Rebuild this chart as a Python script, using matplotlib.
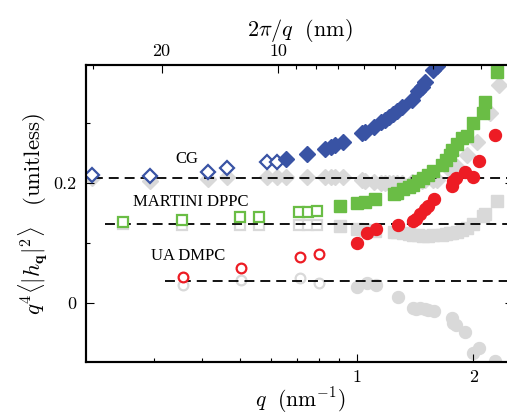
import numpy as np
import matplotlib
matplotlib.use('Agg')
import matplotlib.pyplot as plt
from matplotlib.ticker import FixedLocator, NullFormatter

plt.rcParams['mathtext.fontset'] = 'cm'
plt.rcParams['font.family'] = 'serif'
plt.rcParams['font.serif'] = ['cmr10', 'DejaVu Serif']
plt.rcParams['axes.formatter.use_mathtext'] = True

# colours
BLUE = '#3953a4'
GREEN = '#6abd45'
RED = '#ed1c24'
GRAY = '#d9d9d9'

# ---- CG (diamonds) ----
q_cg = [0.208, 0.293, 0.414, 0.463, 0.587, 0.623, 0.657, 0.745, 0.830, 0.860,
        0.881, 0.924, 1.032, 1.052, 1.110, 1.157, 1.185, 1.214, 1.243, 1.272,
        1.311, 1.388, 1.441, 1.474, 1.503, 1.576, 1.611,
        1.743, 1.814, 1.924, 2.049, 2.210, 2.335]
cg_vals = [0.2138, 0.2127, 0.219, 0.226, 0.2347, 0.2347, 0.2405, 0.248, 0.2567, 0.2605,
           0.263, 0.2693, 0.283, 0.2855, 0.2933, 0.302, 0.3055, 0.3105, 0.3147, 0.3197,
           0.3277, 0.339, 0.3538, 0.3605, 0.3688, 0.3888, 0.3955]
cg_gray = [0.209, 0.204, 0.2067, 0.211, 0.211, 0.211, 0.210, 0.2095, 0.2095, 0.2095,
           0.2095, 0.2095, 0.2045, 0.2037, 0.2027, 0.2005, 0.200, 0.1997, 0.1997, 0.1997,
           0.2005, 0.2022, 0.2038, 0.2038, 0.2047, 0.2055, 0.2055,
           0.222, 0.2277, 0.247, 0.2693, 0.3167, 0.364]
cg_open = 6

# ---- MARTINI DPPC (squares) ----
q_mar = [0.250, 0.355, 0.501, 0.559, 0.709, 0.748, 0.790,
         0.904, 1.002, 1.052, 1.117, 1.245, 1.272, 1.321, 1.361, 1.402, 1.441,
         1.484, 1.532, 1.576, 1.659, 1.702, 1.743, 1.764, 1.814, 1.868, 1.928,
         2.001, 2.117, 2.145, 2.299]
mar_vals = [0.1355, 0.1388, 0.1433, 0.1433, 0.1513, 0.1527, 0.1543,
            0.1622, 0.1667, 0.1693, 0.1733, 0.1822, 0.1838, 0.1897, 0.193, 0.1972, 0.203,
            0.2083, 0.2138, 0.2205, 0.2297, 0.2388, 0.2472, 0.2555, 0.2647, 0.275, 0.2788,
            0.301, 0.317, 0.3358, 0.3858]
mar_gray = [0.1313, 0.1297, 0.1305, 0.1297, 0.1305, 0.1305, 0.1305,
            0.128, 0.1233, 0.1222, 0.1205, 0.1188, 0.118, 0.1163, 0.1155, 0.1138, 0.113,
            0.1122, 0.1122, 0.113, 0.1138, 0.1155, 0.1172, 0.1172, 0.1188, 0.1213, 0.1255,
            0.1313, 0.1455, 0.1488, 0.1697]
mar_open = 7

# ---- UA DMPC (circles) ----
q_ua = [0.357, 0.504, 0.713, 0.798,
        1.003, 1.063, 1.123, 1.276, 1.399, 1.424, 1.458, 1.503, 1.532, 1.580,
        1.764, 1.777, 1.806, 1.905, 2.001, 2.070, 2.270]
ua_vals = [0.0443, 0.0583, 0.0777, 0.0817,
           0.101, 0.1167, 0.1233, 0.1305, 0.1363, 0.1405, 0.1488, 0.1572, 0.1613, 0.173,
           0.1947, 0.2038, 0.2083, 0.2193, 0.2106, 0.2377, 0.2805]
ua_gray = [0.0305, 0.0388, 0.0425, 0.0343,
           0.0277, 0.034, 0.031, 0.010, -0.008, -0.009, -0.008, -0.009, -0.011, -0.0125,
           -0.024, -0.033, -0.036, -0.048, -0.083, -0.075, -0.097]
ua_open = 4

# dashed reference levels and where they start
fit_names = ['CG', 'MARTINI DPPC', 'UA DMPC']
fit_levels = [0.2085, 0.1317, 0.0377]
fit_start = [0.19, 0.225, 0.321]
label_q = [0.364, 0.373, 0.367]
label_y = [0.240, 0.169, 0.079]

fig = plt.figure(figsize=(5.07, 4.17), dpi=100)
ax = fig.add_axes([0.1706, 0.1307, 0.8410, 0.7134])
ax.set_xscale('log')
xmin, xmax = 0.201, 2.53
ax.set_xlim(xmin, xmax)
ax.set_ylim(-0.099, 0.397)

# gray points first
ax.plot(q_cg, cg_gray, 'D', ms=8.4, color=GRAY, mec=GRAY, zorder=1)
ax.plot(q_mar[:mar_open], mar_gray[:mar_open], 's', ms=7.0, mfc='white', mec=GRAY, mew=1.6, zorder=1)
ax.plot(q_mar[mar_open:], mar_gray[mar_open:], 's', ms=8.0, color=GRAY, zorder=1)
ax.plot(q_ua[:ua_open], ua_gray[:ua_open], 'o', ms=7.0, mfc='white', mec=GRAY, mew=1.6, zorder=1)
ax.plot(q_ua[ua_open:], ua_gray[ua_open:], 'o', ms=8.6, color=GRAY, zorder=1)

# dashed lines
for lev, st in zip(fit_levels, fit_start):
    ax.plot([st, xmax * 1.1], [lev, lev], color='black', lw=1.3,
            ls=(0, (5.5, 3.3)), zorder=2)

# coloured points
n = len(cg_vals)
ax.plot(q_cg[:cg_open], cg_vals[:cg_open], 'D', ms=7.6, mfc='white', mec=BLUE, mew=1.6, zorder=3)
ax.plot(q_cg[cg_open:n], cg_vals[cg_open:], 'D', ms=8.6, color=BLUE, zorder=3)
ax.plot(q_mar[:mar_open], mar_vals[:mar_open], 's', ms=7.0, mfc='white', mec=GREEN, mew=1.6, zorder=3)
ax.plot(q_mar[mar_open:], mar_vals[mar_open:], 's', ms=8.0, color=GREEN, zorder=3)
ax.plot(q_ua[:ua_open], ua_vals[:ua_open], 'o', ms=7.0, mfc='white', mec=RED, mew=1.6, zorder=3)
ax.plot(q_ua[ua_open:], ua_vals[ua_open:], 'o', ms=8.6, color=RED, zorder=3)

for name, lq, ly in zip(fit_names, label_q, label_y):
    ax.text(lq, ly, name, ha='center', va='center', fontsize=12,
            family='Liberation Serif', zorder=4)

# bottom / left ticks
ax.xaxis.set_major_locator(FixedLocator([1, 2]))
ax.set_xticklabels(['1', '2'])
ax.xaxis.set_minor_locator(FixedLocator([0.3, 0.4, 0.5, 0.6, 0.7, 0.8, 0.9]))
ax.xaxis.set_minor_formatter(NullFormatter())
ax.yaxis.set_major_locator(FixedLocator([0, 0.2]))
ax.set_yticklabels(['0', '0.2'])
ax.yaxis.set_minor_locator(FixedLocator([0.1, 0.3]))
ax.tick_params(which='both', direction='in', right=True, top=False, width=0.8, labelsize=13)
ax.tick_params(which='major', length=5.5)
ax.tick_params(which='minor', length=3)
ax.tick_params(axis='x', pad=5)
ax.tick_params(axis='y', pad=7)

# top axis: wavelength 2*pi/q
lam_major = [20, 10]
lam_minor = [30, 9, 8, 7, 6, 5, 4, 3]
ax2 = ax.twiny()
ax2.set_xscale('log')
ax2.set_xlim(xmin, xmax)
ax2.xaxis.set_major_locator(FixedLocator([2 * np.pi / l for l in lam_major]))
ax2.set_xticklabels([str(l) for l in lam_major])
ax2.xaxis.set_minor_locator(FixedLocator([2 * np.pi / l for l in lam_minor]))
ax2.xaxis.set_minor_formatter(NullFormatter())
ax2.tick_params(which='both', direction='in', width=0.8, labelsize=13, pad=4)
ax2.tick_params(which='major', length=5.5)
ax2.tick_params(which='minor', length=3)

for a in (ax, ax2):
    for sp in a.spines.values():
        sp.set_linewidth(1.5)

ax.set_xlabel(r'$q\ \ (\mathrm{nm}^{-1})$', fontsize=15.5, labelpad=0)
ax2.set_xlabel(r'$2\pi/q\ \ (\mathrm{nm})$', fontsize=16, labelpad=6)
ax.set_ylabel(r'$q^4\langle|h_{\mathbf{q}}|^2\rangle\ \ \ (\mathrm{unitless})$', fontsize=16.5, labelpad=3)

fig.savefig('out.png', dpi=100)
